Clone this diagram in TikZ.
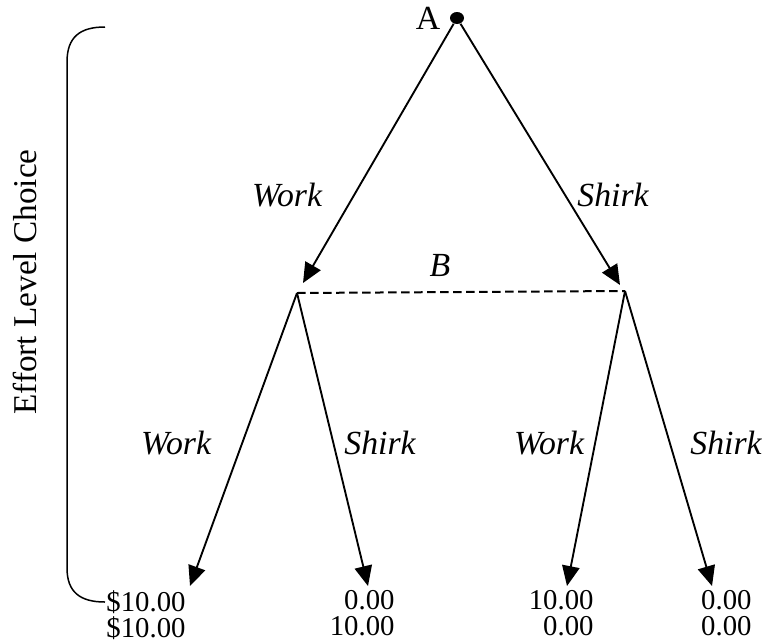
\documentclass[tikz,border=0pt]{standalone}
\usepackage{fontspec}
\setmainfont{Liberation Serif}
\usetikzlibrary{arrows.meta,positioning,shapes.geometric}
\tikzset{mv/.style={-{Triangle[length=8pt,width=7pt]},line width=0.75pt},
 lb/.style={font=\itshape\fontsize{13.5}{15}\selectfont,inner sep=1pt},
 pay/.style={font=\fontsize{11.5}{10.4}\selectfont,inner sep=0pt,anchor=north east,align=right},
 dot/.style={fill,ellipse,minimum width=5.6pt,minimum height=4.8pt,inner sep=0pt}}
\begin{document}
\begin{tikzpicture}[x=0.4pt,y=-0.4pt]
\useasboundingbox(0,0)rectangle(764,640);
\node[dot](a)at(457,18){};\node[left=2.5pt of a,font=\fontsize{13.5}{15}\selectfont,inner sep=1pt](al){A};
\coordinate(bl)at(297,293);\coordinate(br)at(625,291);
\coordinate(t1)at(190,586);\coordinate(t2)at(368,586);\coordinate(t3)at(567,586);\coordinate(t4)at(712,586);
\draw[mv](a)--(303,283);\draw[mv](a)--(620,285);
\draw[line width=0.8pt,dash pattern=on 3.4pt off 1.8pt](bl)--(br);
\draw[mv](bl)--(t1);\draw[mv](bl)--(t2);\draw[mv](br)--(t3);\draw[mv](br)--(t4);
\node[lb](w0)at(287,195){Work};\node[lb](s0)at(613,195){Shirk};\node[lb](b)at(440,265){B};
\node[lb](w1)at(176,443){Work};\node[lb](s1)at(380,443){Shirk};
\node[lb](w2)at(549,443){Work};\node[lb](s2)at(726,443){Shirk};
% payoffs
\node[pay](p1)at(186,590){\$10.00\\\$10.00};\node[pay](p2)at(395,590){0.00\\10.00};
\node[pay](p3)at(594,590){10.00\\0.00};\node[pay](p4)at(752,590){0.00\\0.00};
% bracket
\draw[line width=0.6pt](105,27)..controls(80,27)and(67,37)..(67,62)--(67,568)..controls(67,592)and(80,602)..(105,602);
\node[rotate=90,font=\fontsize{13.3}{15}\selectfont](eff)at(25,282){Effort Level Choice};
\end{tikzpicture}
\end{document}
